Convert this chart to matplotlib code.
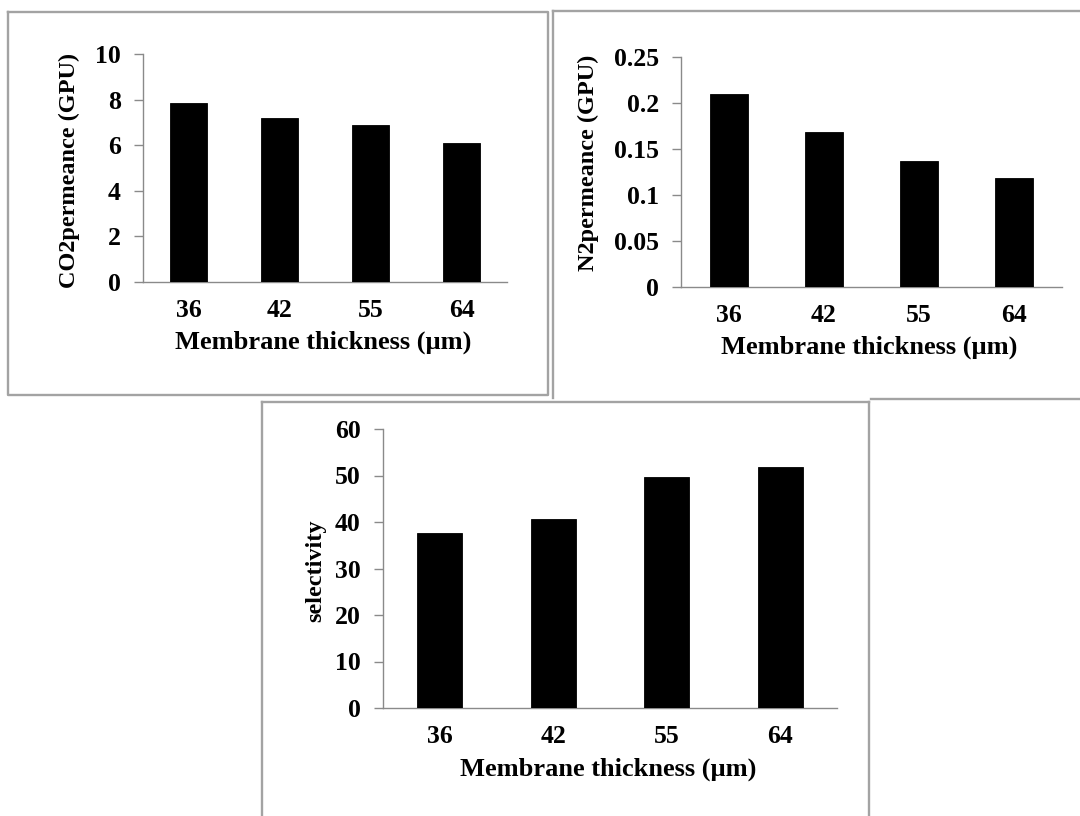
import matplotlib
matplotlib.use("Agg")
import matplotlib.pyplot as plt
from matplotlib.lines import Line2D
from matplotlib.ticker import MultipleLocator, FuncFormatter

# Membrane thickness categories (µm) and measured responses
thickness = ["36", "42", "55", "64"]
co2_permeance = [7.85, 7.2, 6.9, 6.1]       # GPU
n2_permeance = [0.21, 0.168, 0.137, 0.118]  # GPU
selectivity = [37.6, 40.6, 49.6, 51.8]      # CO2/N2

W, H = 1080, 816
plt.rcParams["font.family"] = ["Liberation Serif", "DejaVu Serif"]
plt.rcParams["font.weight"] = "bold"

fig = plt.figure(figsize=(W / 100, H / 100), dpi=100)
fig.patch.set_facecolor("white")

AXIS_GRAY = "#8a8a8a"
BOX_GRAY = "#a3a3a3"
TICK_FS = 18.5
YLABEL_FS = 17.5
XLABEL_FS = 19


def fx(px):
    return px / W


def fy(py):
    return 1 - py / H


def frame_line(xs, ys):
    fig.add_artist(Line2D([fx(x) for x in xs], [fy(y) for y in ys],
                          transform=fig.transFigure, color=BOX_GRAY,
                          lw=1.7, solid_capstyle="projecting", zorder=0))


# Chart-area frames
frame_line([8, 548, 548, 8, 8], [12, 12, 395, 395, 12])
frame_line([553, 1082], [11, 11])
frame_line([553, 553], [11, 398])
frame_line([871, 1082], [399, 399])
frame_line([262, 869], [402, 402])
frame_line([262, 262], [402, 820])
frame_line([869, 869], [402, 820])


def bar_panel(box, values, ymax, ystep, ylabel, ylabel_pos, xlabel_pos, fmt):
    left, top, right, bottom = box
    ax = fig.add_axes([fx(left), fy(bottom), fx(right - left), (bottom - top) / H])
    ax.bar(range(len(values)), values, width=0.4, color="black",
           edgecolor="black", linewidth=0.6, zorder=3)
    ax.set_xlim(-0.5, len(values) - 0.5)
    ax.set_ylim(0, ymax)
    ax.yaxis.set_major_locator(MultipleLocator(ystep))
    ax.yaxis.set_major_formatter(FuncFormatter(fmt))
    ax.set_xticks(range(len(values)))
    ax.set_xticklabels(thickness)
    for s in ("top", "right"):
        ax.spines[s].set_visible(False)
    for s in ("left", "bottom"):
        ax.spines[s].set_color(AXIS_GRAY)
        ax.spines[s].set_linewidth(1.0)
    ax.tick_params(axis="y", direction="out", length=6.5, width=1.0,
                   color=AXIS_GRAY, labelsize=TICK_FS, pad=9.5)
    ax.tick_params(axis="x", length=0, labelsize=TICK_FS, pad=12.5)
    for lab in ax.get_xticklabels() + ax.get_yticklabels():
        lab.set_fontweight("bold")
    ax.set_ylabel(ylabel, fontsize=YLABEL_FS, fontweight="bold")
    ax.yaxis.set_label_coords(fx(ylabel_pos[0]), fy(ylabel_pos[1]),
                              transform=fig.transFigure)
    ax.set_xlabel("Membrane thickness (µm)", fontsize=XLABEL_FS, fontweight="bold")
    ax.xaxis.set_label_coords(fx(xlabel_pos[0]), fy(xlabel_pos[1]),
                              transform=fig.transFigure)
    return ax


def fmt_int(v, _):
    return f"{v:.0f}"


def fmt_g(v, _):
    return f"{round(v, 4):g}"


bar_panel((143, 54, 507, 282), co2_permeance, 10, 2,
          "CO2permeance (GPU)", (80, 170), (323, 331), fmt_int)
bar_panel((681, 57, 1062, 287), n2_permeance, 0.25, 0.05,
          "N2permeance (GPU)", (599, 163), (869, 336), fmt_g)
bar_panel((383, 429, 837, 708), selectivity, 60, 10,
          "selectivity", (326, 571), (608, 758), fmt_int)

fig.savefig("out.png", dpi=100, facecolor="white")
